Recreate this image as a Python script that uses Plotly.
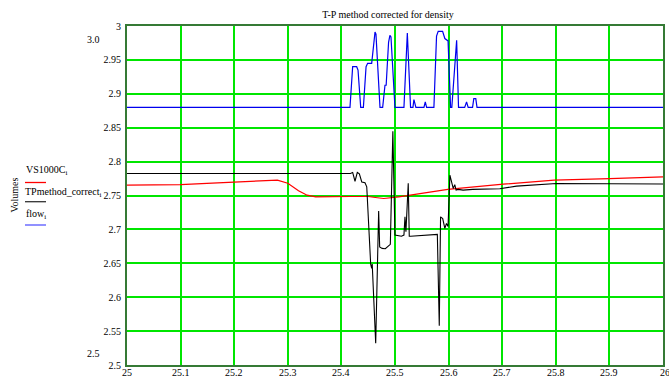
import plotly.graph_objects as go

# ---- data ----
flow_x = [25.0, 25.416, 25.421, 25.4285, 25.431, 25.436, 25.441, 25.446, 25.449, 25.4565, 25.4627,
          25.4645, 25.472, 25.477, 25.4813, 25.4835, 25.488, 25.4905, 25.4925, 25.4999, 25.5167, 25.523,
          25.529, 25.5335, 25.5353, 25.539, 25.554, 25.5565, 25.559, 25.5726, 25.5775, 25.5806, 25.5888,
          25.593, 25.599, 25.6037, 25.606, 25.615, 25.6185, 25.630, 25.6335, 25.6365, 25.6447, 25.647,
          25.6507, 25.653, 26.0]
flow_y = [2.88, 2.88, 2.94, 2.94, 2.935, 2.88, 2.88, 2.94, 2.945, 2.945, 2.991,
          2.988, 2.88, 2.88, 2.9126, 2.9126, 2.976, 2.986, 2.984, 2.88, 2.88, 2.9897,
          2.88, 2.88, 2.8915, 2.88, 2.88, 2.888, 2.88, 2.88, 2.985, 2.992, 2.992,
          2.9815, 2.978, 2.88, 2.88, 2.979, 2.88, 2.88, 2.888, 2.88, 2.88, 2.893,
          2.893, 2.88, 2.88]

tp_x = [25.0, 25.4168, 25.421, 25.4254, 25.4297, 25.4335, 25.438, 25.444, 25.4473, 25.4546, 25.4565,
        25.4575, 25.464, 25.4695, 25.4714, 25.476, 25.482, 25.4913, 25.496, 25.4999, 25.512, 25.5167,
        25.5186, 25.5204, 25.5247, 25.5266, 25.529, 25.545, 25.565, 25.579, 25.5826, 25.585, 25.589,
        25.593, 25.596, 25.599, 25.6024, 25.6055, 25.6086, 25.6115, 25.614, 25.6179, 25.627, 25.645,
        25.658, 25.686, 25.6956, 25.7266, 25.751, 25.8012, 26.0]
tp_y = [2.7825, 2.7825, 2.784, 2.771, 2.784, 2.782, 2.770, 2.7687, 2.7628, 2.6488, 2.6425,
        2.649, 2.532, 2.727, 2.674, 2.672, 2.6715, 2.678, 2.8448, 2.6916, 2.690, 2.6916,
        2.7185, 2.6965, 2.768, 2.690, 2.690, 2.6905, 2.6915, 2.6926, 2.558, 2.7185, 2.716,
        2.7014, 2.7088, 2.7043, 2.780, 2.771, 2.7604, 2.766, 2.758, 2.759, 2.758, 2.759,
        2.759, 2.759, 2.760, 2.7638, 2.765, 2.7678, 2.767]

vs_x = [25.0, 25.1, 25.169, 25.241, 25.2806, 25.30, 25.32, 25.336, 25.352, 25.416, 25.45, 25.4634,
        25.479, 25.507, 25.539, 25.5985, 25.702, 25.797, 25.9006, 26.0]
vs_y = [2.7652, 2.766, 2.7687, 2.771, 2.7726, 2.768, 2.757, 2.7505, 2.748, 2.7485, 2.7485, 2.7471,
        2.7456, 2.748, 2.752, 2.759, 2.7667, 2.7726, 2.775, 2.7775]

x_ticks = [25.0, 25.1, 25.2, 25.3, 25.4, 25.5, 25.6, 25.7, 25.8, 25.9, 26.0]
x_ticktext = ["25", "25.1", "25.2", "25.3", "25.4", "25.5", "25.6", "25.7", "25.8", "25.9", "26"]
y_ticks = [2.5, 2.55, 2.6, 2.65, 2.7, 2.75, 2.8, 2.85, 2.9, 2.95, 3.0]
y_ticktext = ["2.5", "2.55", "2.6", "2.65", "2.7", "2.75", "2.8", "2.85", "2.9", "2.95", "3"]

W, H = 669, 379
L, R, T, B = 127, 6, 26, 14
PW, PH = W - L - R, H - T - B


def px(xp):
    return (xp - L) / PW


def py(yp):
    return (H - B - yp) / PH


FONT = "Liberation Serif"
GRID = "#00e600"
FRAME = "#357a35"
TF = dict(family=FONT, size=10, color="black")

fig = go.Figure()
fig.add_trace(go.Scatter(x=vs_x, y=vs_y, mode="lines", line=dict(color="#ff0000", width=1.2), name="VS1000C"))
fig.add_trace(go.Scatter(x=tp_x, y=tp_y, mode="lines", line=dict(color="#000000", width=1.1), name="TPmethod_correct"))
fig.add_trace(go.Scatter(x=flow_x, y=flow_y, mode="lines", line=dict(color="#0000ee", width=1.2), name="flow"))


def ann(text, x, y, xanchor="left", yref="paper", angle=0):
    return dict(text=text, x=x, y=y, xref="paper", yref=yref, xanchor=xanchor, yanchor="middle",
                showarrow=False, textangle=angle, font=TF, borderpad=0)


annotations = [
    ann("3.0", px(101), 2.98, xanchor="right", yref="y"),
    ann("2.5", px(101), 2.5177, xanchor="right", yref="y"),
    ann("Volumes", px(13.5), py(195), xanchor="center", angle=-90),
    ann("VS1000C<sub>i</sub>", px(25), py(170)),
    ann("TPmethod_correct<sub>i</sub>", px(24), py(192)),
    ann("flow<sub>i</sub>", px(25), py(214)),
]
for v, t in zip(x_ticks, x_ticktext):
    annotations.append(dict(text=t, x=v, y=py(372), xref="x", yref="paper",
                            xanchor="left" if v == 26.0 else "center", xshift=-4 if v == 26.0 else 0,
                            yanchor="middle", showarrow=False, font=TF, borderpad=0))

shapes = [
    dict(type="line", xref="paper", yref="paper", x0=px(25), x1=px(46), y0=py(182.5), y1=py(182.5),
         line=dict(color="#ff0000", width=1.3)),
    dict(type="line", xref="paper", yref="paper", x0=px(25), x1=px(46), y0=py(201.7), y1=py(201.7),
         line=dict(color="#333333", width=1.3)),
    dict(type="line", xref="paper", yref="paper", x0=px(25), x1=px(46), y0=py(225), y1=py(225),
         line=dict(color="#5555ff", width=1.3)),
]

fig.update_layout(
    width=W, height=H,
    margin=dict(l=L, r=R, t=T, b=B, autoexpand=False),
    paper_bgcolor="white", plot_bgcolor="white",
    showlegend=False,
    title=dict(text="T-P method corrected for density", x=388 / W, xref="container", xanchor="center",
               y=1 - 14 / H, yref="container", yanchor="middle", automargin=False, font=TF),
    font=TF,
    annotations=annotations,
    shapes=shapes,
)
fig.update_xaxes(range=[25, 26], tickvals=x_ticks, showticklabels=False, showgrid=True, gridcolor=GRID,
                 gridwidth=1.5, zeroline=False, showline=True, linecolor=FRAME, linewidth=2, mirror=True,
                 ticks="", automargin=False)
fig.update_yaxes(range=[2.5, 3.0], tickvals=y_ticks, ticktext=y_ticktext, showgrid=True, gridcolor=GRID,
                 gridwidth=1.5, zeroline=False, showline=True, linecolor=FRAME, linewidth=2, mirror=True,
                 ticks="", tickfont=TF, automargin=False, ticklabelstandoff=2)

fig.write_html("out.html", config={"displayModeBar": False},
               post_script="document.body.style.margin='0';document.body.style.padding='0';"
                           "document.body.style.overflow='hidden';")
